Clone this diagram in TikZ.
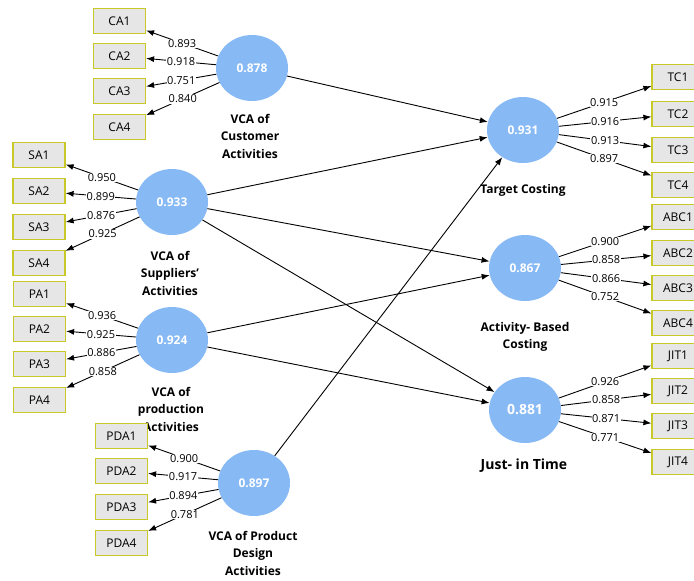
\documentclass[tikz,border=0pt]{standalone}
\usepackage{fontspec}
\setmainfont{Open Sans}
\usetikzlibrary{shapes.geometric,arrows.meta}
\definecolor{lvblue}{RGB}{135,185,245}
\definecolor{mvfill}{RGB}{230,230,230}
\definecolor{mvline}{RGB}{200,200,40}
\tikzset{
	latent/.style={ellipse, fill=lvblue, minimum width=72pt, minimum height=66pt, inner sep=0pt, text=white, font=\bfseries\fontsize{12}{14}\selectfont},
	indicator/.style={rectangle, draw=mvline, line width=1.2pt, fill=mvfill, minimum width=52pt, minimum height=25pt, inner sep=0pt, font=\fontsize{12}{14}\selectfont},
	lvname/.style={anchor=north, align=center, inner sep=0pt, font=\bfseries\fontsize{12}{17.5}\selectfont},
	link/.style={line width=0.9pt, -{Latex[length=8pt,width=6pt]}},
	loading/.style={fill=white, inner sep=0.6pt, font=\fontsize{11}{12}\selectfont}
}
\begin{document}
\begin{tikzpicture}[x=1pt, y=-1pt]
			\useasboundingbox (0,0) rectangle (694,581);
			
			\node[latent] (CA) at (252,68) {0.878};
			\node[latent] (SA) at (172,202) {0.933};
			\node[latent] (PA) at (172,340) {0.924};
			\node[latent] (PDA) at (254,483) {0.897};
			\node[latent] (TC) at (523,130) {0.931};
			\node[latent] (ABC) at (525,268) {0.867};
			\node[latent, font=\bfseries\fontsize{14}{16}\selectfont] (JIT) at (525,410) {0.881};
			
			\node[lvname] (CAname) at (250,114) {VCA of\\Customer\\Activities};
			\node[lvname] (SAname) at (170,251) {VCA of\\Suppliers'\\Activities};
			\node[lvname] (PAname) at (171,387) {VCA of\\production\\Activities};
			\node[lvname] (PDAname) at (253,531) {VCA of Product\\Design\\Activities};
			\node[lvname] (TCname) at (523,184) {Target Costing};
			\node[lvname] (ABCname) at (525,322) {Activity- Based\\Costing};
			\node[lvname, font=\bfseries\fontsize{14}{16}\selectfont] (JITname) at (524,459) {Just- in Time};
			
			\draw[link] (CA) -- (TC);
			\draw[link] (SA) -- (TC);
			\draw[link] (SA) -- (ABC);
			\draw[link] (SA) -- (JIT);
			\draw[link] (PA) -- (ABC);
			\draw[link] (PA) -- (JIT);
			\draw[link] (PDA) -- (TC);
			
			\foreach \i/\y/\ld in {1/21/0.893, 2/56/0.918, 3/91/0.751, 4/127/0.840}
			{
				\node[indicator] (CA\i) at (119.5,\y) {CA\i};
				\draw[link] (CA) -- node[loading] {\ld} (CA\i);
			}
			\foreach \i/\y/\ld in {1/155/0.950, 2/191/0.899, 3/227/0.876, 4/263/0.925}
			{
				\node[indicator] (SA\i) at (39,\y) {SA\i};
				\draw[link] (SA) -- node[loading] {\ld} (SA\i);
			}
			\foreach \i/\y/\ld in {1/294/0.936, 2/329/0.925, 3/364/0.886, 4/400/0.858}
			{
				\node[indicator] (PA\i) at (39.5,\y) {PA\i};
				\draw[link] (PA) -- node[loading] {\ld} (PA\i);
			}
			\foreach \i/\y/\ld in {1/436/0.900, 2/471/0.917, 3/507/0.894, 4/543/0.781}
			{
				\node[indicator] (PDA\i) at (121.5,\y) {PDA\i};
				\draw[link] (PDA) -- node[loading] {\ld} (PDA\i);
			}
			\foreach \i/\y/\ld in {1/77/0.915, 2/114/0.916, 3/150/0.913, 4/185/0.897}
			{
				\node[indicator] (TC\i) at (678,\y) {TC\i};
				\draw[link] (TC) -- node[loading] {\ld} (TC\i);
			}
			\foreach \i/\y/\ld in {1/217/0.900, 2/253/0.858, 3/288/0.866, 4/323/0.752}
			{
				\node[indicator] (ABC\i) at (678,\y) {ABC\i};
				\draw[link] (ABC) -- node[loading] {\ld} (ABC\i);
			}
			\foreach \i/\y/\ld in {1/356/0.926, 2/391/0.858, 3/426/0.871, 4/462/0.771}
			{
				\node[indicator] (JIT\i) at (678,\y) {JIT\i};
				\draw[link] (JIT) -- node[loading] {\ld} (JIT\i);
			}
		\end{tikzpicture}
\end{document}
